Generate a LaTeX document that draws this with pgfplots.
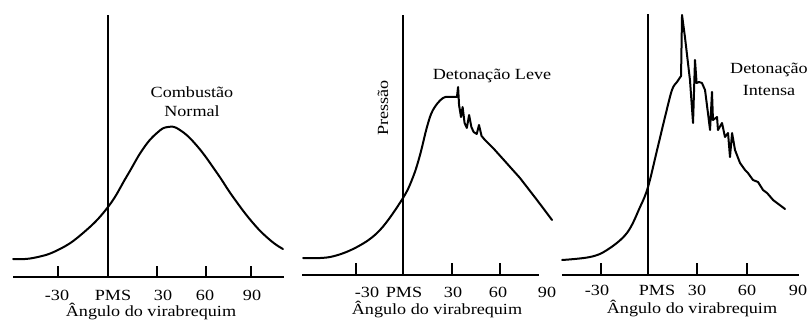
\documentclass[border=0pt]{standalone}
\usepackage{pgfplots}
\pgfplotsset{compat=1.18}
\usepackage{fontspec}
\setmainfont[FakeStretch=1.17]{Liberation Serif}
\newcommand{\lf}{\fontsize{15.5bp}{18bp}\selectfont}
\pgfplotsset{
  knock/.style={
    x=1.62bp, y=1bp, anchor=origin, clip=false,
    ymin=0, ymax=262,
    axis line style={draw=none},
    xtick=\empty, ytick=\empty,
  },
  curve/.style={line width=2bp, black, line join=round, line cap=round},
  pms/.style={line width=1.5bp, black},
  base/.style={line width=1.5bp, black},
  tk/.style={ycomb, line width=2bp, black, mark=none},
}
\begin{document}
\begin{tikzpicture}
\useasboundingbox (0,0) rectangle (811bp,322bp);
% Panel 1: normal combustion
\begin{axis}[knock, at={(108bp,45bp)}, xmin=-58.6, xmax=108.6]
\addplot[base] coordinates {(-58.6,0) (108.6,0)};
\addplot[tk] coordinates {(-30.9,11) (30.2,11) (60.5,11) (88.3,11)};
\addplot[pms] coordinates {(0,0) (0,262)};
\addplot[curve, smooth, tension=0.75] coordinates {
(-58.6,18) (-46.3,19) (-30.9,27) (-15.4,44) (0,70) (11.7,101) (21.6,128)
(30.2,144) (37,150) (44.4,147) (55,131) (67.3,104) (77.2,80) (89.5,54)
(100,37) (108,28)};
\end{axis}
% Panel 2: light knock
\begin{axis}[knock, at={(403bp,47bp)}, xmin=-62.3, xmax=84]
\addplot[base] coordinates {(-62.3,0) (84,0)};
\addplot[tk] coordinates {(-29,12) (30.2,12) (59.9,12)};
\addplot[pms] coordinates {(0,0) (0,260)};
\addplot[curve, smooth, tension=0.6] coordinates {
(-61.7,17) (-45,18) (-28.4,28) (-14.2,45) (0,77) (6.2,98) (10.5,120)
(14.8,148) (18.5,165) (24.7,177) (30.9,178) (33.3,178)};
\addplot[curve] coordinates {
(33.3,178) (34,188) (34.6,170) (35.8,158) (36.8,168) (38,152) (39.4,147) (40.8,160)
(42.2,148) (43.6,143) (45.5,141) (46.9,150) (48.5,139) (50.6,135) (55.6,127) (61.7,116)
(72.2,97) (82.7,75) (92,55)};
\end{axis}
% Panel 3: heavy knock
\begin{axis}[knock, at={(648bp,47bp)}, xmin=-53.1, xmax=93.2]
\addplot[base] coordinates {(-53.1,0) (93.2,0)};
\addplot[tk] coordinates {(-29,12) (30.2,12) (61.1,12)};
\addplot[pms] coordinates {(0,0) (0,261)};
\addplot[curve, smooth, tension=0.6] coordinates {
(-53,15) (-35.8,18) (-25.3,25) (-13,42) (-4.9,68) (0,88) (5.6,125)
(10.5,158) (14.8,185) (17.9,193) (20.4,199)};
\addplot[curve] coordinates {
(20.4,199) (21,260) (22.8,238) (25.9,195) (27.8,152) (29,215) (30,192)
(31.5,193) (33.3,192) (35.2,185) (37,162) (38.3,145) (39.5,183) (40.1,155)
(42.6,158) (43.2,145) (45.7,152) (47.5,138) (49.4,142) (50.6,118) (51.9,142)
(53.7,125) (56.8,112) (59.9,105) (61.7,102) (64.8,95) (67.9,93) (71,85)
(73.5,82) (77.2,75) (84.6,66)};
\end{axis}
% texts
\begin{scope}[every node/.style={font=\lf, inner sep=0pt, anchor=base}]
\node at (57bp,22bp) {-30};
\node at (113bp,22bp) {PMS};
\node at (163bp,22bp) {30};
\node at (205bp,22bp) {60};
\node at (252bp,22bp) {90};
\node at (151bp,5.5bp) {Ângulo do virabrequim};
\node at (367bp,25bp) {-30};
\node at (404bp,25bp) {PMS};
\node at (453bp,25bp) {30};
\node at (498bp,25bp) {60};
\node at (547bp,25bp) {90};
\node at (437bp,7.5bp) {Ângulo do virabrequim};
\node at (597bp,27bp) {-30};
\node at (657bp,27bp) {PMS};
\node at (697bp,27bp) {30};
\node at (747bp,27bp) {60};
\node at (798bp,27bp) {90};
\node at (692bp,8.5bp) {Ângulo do virabrequim};
\node at (192bp,224bp) {Combustão};
\node at (192bp,205bp) {Normal};
\node at (492bp,242bp) {Detonação Leve};
\node at (769bp,248bp) {Detonação};
\node at (769bp,226bp) {Intensa};
\node[anchor=center, rotate=90] at (383bp,214bp) {Pressão};
\end{scope}
\end{tikzpicture}
\end{document}
